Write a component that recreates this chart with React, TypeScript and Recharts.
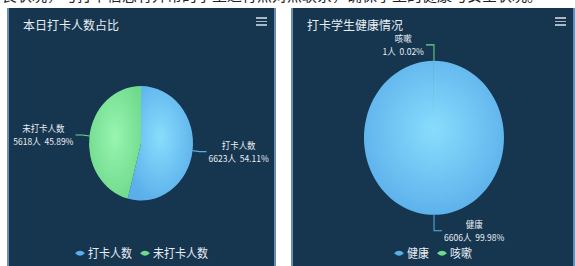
import { Legend, Pie, PieChart } from 'recharts';

const checkinNames = ['打卡人数', '未打卡人数'];
const checkinValues = [6623, 5618];
const healthNames = ['健康', '咳嗽'];
const healthValues = [6606, 1];

const SLICE = [
  { id: 'sliceBlue', inner: '#88ddfd', outer: '#5aaeea', line: '#5aaeea' },
  { id: 'sliceGreen', inner: '#98f5b0', outer: '#6fd98c', line: '#6fd98c' },
];

const FONT = '"Noto Sans CJK SC", "Microsoft YaHei", sans-serif';
const PANEL_BG = '#16354f';
const TEXT = '#e8eef4';
const STRETCH = 1.1;
const LABEL_SIZE = 8.5;

let measureCtx: CanvasRenderingContext2D | null = null;
function measure(text: string, size: number) {
  if (!measureCtx) measureCtx = document.createElement('canvas').getContext('2d');
  if (!measureCtx) return text.length * size * 0.6;
  measureCtx.font = `${size}px ${FONT}`;
  return measureCtx.measureText(text).width;
}

// echarts-ish label: radial segment, then horizontal, then a two line block
function makeLabel(len1: number, len2: number) {
  return (props: any) => {
    const { cx, cy, midAngle, outerRadius, percent, name, value, index } = props;
    const rad = Math.PI / 180;
    const cos = Math.cos(-midAngle * rad);
    const sin = Math.sin(-midAngle * rad);
    const x0 = cx + outerRadius * cos;
    const y0 = cy + outerRadius * sin;
    const x1 = cx + (outerRadius + len1) * cos;
    const y1 = cy + (outerRadius + len1) * sin;
    const right = cos >= 0;
    const x2 = x1 + (right ? len2 : -len2);
    const top = String(name);
    const bottom = `${value}人  ${(percent * 100).toFixed(2)}%`;
    const w = Math.max(measure(top, LABEL_SIZE), measure(bottom, LABEL_SIZE));
    const mid = right ? x2 + 2 + w / 2 : x2 - 2 - w / 2;
    const textProps = {
      x: mid,
      textAnchor: 'middle' as const,
      dominantBaseline: 'central' as const,
      fill: TEXT,
      fontSize: LABEL_SIZE,
      fontFamily: FONT,
      style: { whiteSpace: 'pre' as const },
    };
    return (
      <g>
        <polyline
          points={`${x0},${y0} ${x1},${y1} ${x2},${y1}`}
          fill="none"
          stroke={SLICE[index].line}
          strokeWidth={1}
        />
        <text {...textProps} y={y1 - 6}>{top}</text>
        <text {...textProps} y={y1 + 6}>{bottom}</text>
      </g>
    );
  };
}

function LegendRow({ payload }: { payload?: { value: string }[] }) {
  return (
    <div
      style={{
        display: 'flex',
        justifyContent: 'center',
        gap: 8,
        fontSize: 11,
        fontFamily: FONT,
        color: TEXT,
        lineHeight: '11px',
      }}
    >
      {(payload ?? []).map((item, i) => (
        <span key={item.value} style={{ display: 'flex', alignItems: 'center', gap: 3 }}>
          <svg width={10} height={6}>
            <path d="M0 3 Q5 -1.5 10 3 Q5 7.5 0 3Z" fill={SLICE[i].outer} />
          </svg>
          {item.value}
        </span>
      ))}
    </div>
  );
}

function Menu() {
  return (
    <div style={{ position: 'absolute', right: 9, top: 9, width: 11 }}>
      {[0, 1, 2].map(i => (
        <div key={i} style={{ height: 1.5, background: '#aab8c6', marginBottom: 2 }} />
      ))}
    </div>
  );
}

interface PanelProps {
  left: number;
  width: number;
  title: string;
  names: string[];
  values: number[];
  cx: number;
  cy: number;
  radius: number;
  len1: number;
  len2: number;
}

function Panel({ left, width, title, names, values, cx, cy, radius, len1, len2 }: PanelProps) {
  const data = names.map((name, i) => ({ name, value: values[i], fill: `url(#${SLICE[i].id})` }));
  const chartH = 236;
  return (
    <div
      style={{
        position: 'absolute',
        left,
        top: 8,
        width,
        height: 270,
        background: PANEL_BG,
        boxShadow: 'inset 2px 0 0 #6b8db2, inset -2px 0 0 #6b8db2',
        overflow: 'hidden',
      }}
    >
      <div style={{ position: 'absolute', top: 0, left: 0, transform: `scaleY(${STRETCH})`, transformOrigin: 'top left' }}>
        <PieChart width={width} height={chartH} margin={{ top: 0, right: 0, bottom: 0, left: 0 }}>
          <defs>
            {SLICE.map(s => (
              <radialGradient key={s.id} id={s.id} cx="50%" cy="45%" r="60%">
                <stop offset="0%" stopColor={s.inner} />
                <stop offset="100%" stopColor={s.outer} />
              </radialGradient>
            ))}
          </defs>
          <Pie
            data={data}
            dataKey="value"
            nameKey="name"
            cx={cx}
            cy={cy}
            outerRadius={radius}
            startAngle={90}
            endAngle={-270}
            stroke="none"
            label={makeLabel(len1, len2)}
            labelLine={false}
            isAnimationActive={false}
          />
          <Legend
            content={(p: any) => <LegendRow payload={p.payload} />}
            wrapperStyle={{ left: 0, top: 217, width }}
          />
        </PieChart>
      </div>
      <div
        style={{
          position: 'absolute',
          left: 16,
          top: 9,
          fontSize: 12,
          fontFamily: FONT,
          color: TEXT,
          lineHeight: '16px',
        }}
      >
        {title}
      </div>
      <Menu />
    </div>
  );
}

export default function App() {
  return (
    <div
      style={{
        position: 'fixed',
        left: 0,
        top: 0,
        width: 575,
        height: 266,
        background: '#fff',
        overflow: 'hidden',
      }}
    >
      <div
        style={{
          position: 'absolute',
          left: 2,
          top: -14,
          fontSize: 15,
          fontFamily: FONT,
          color: '#222',
          whiteSpace: 'nowrap',
          lineHeight: '18px',
        }}
      >
        良状况，与打卡信息有异常的学生进行点对点联系，确保学生的健康与安全状况。
      </div>
      <Panel
        left={7}
        width={269}
        title="本日打卡人数占比"
        names={checkinNames}
        values={checkinValues}
        cx={134}
        cy={123}
        radius={52}
        len1={7}
        len2={7}
      />
      <Panel
        left={291}
        width={284}
        title="打卡学生健康情况"
        names={healthNames}
        values={healthValues}
        cx={143}
        cy={118}
        radius={70}
        len1={14.5}
        len2={8}
      />
    </div>
  );
}
